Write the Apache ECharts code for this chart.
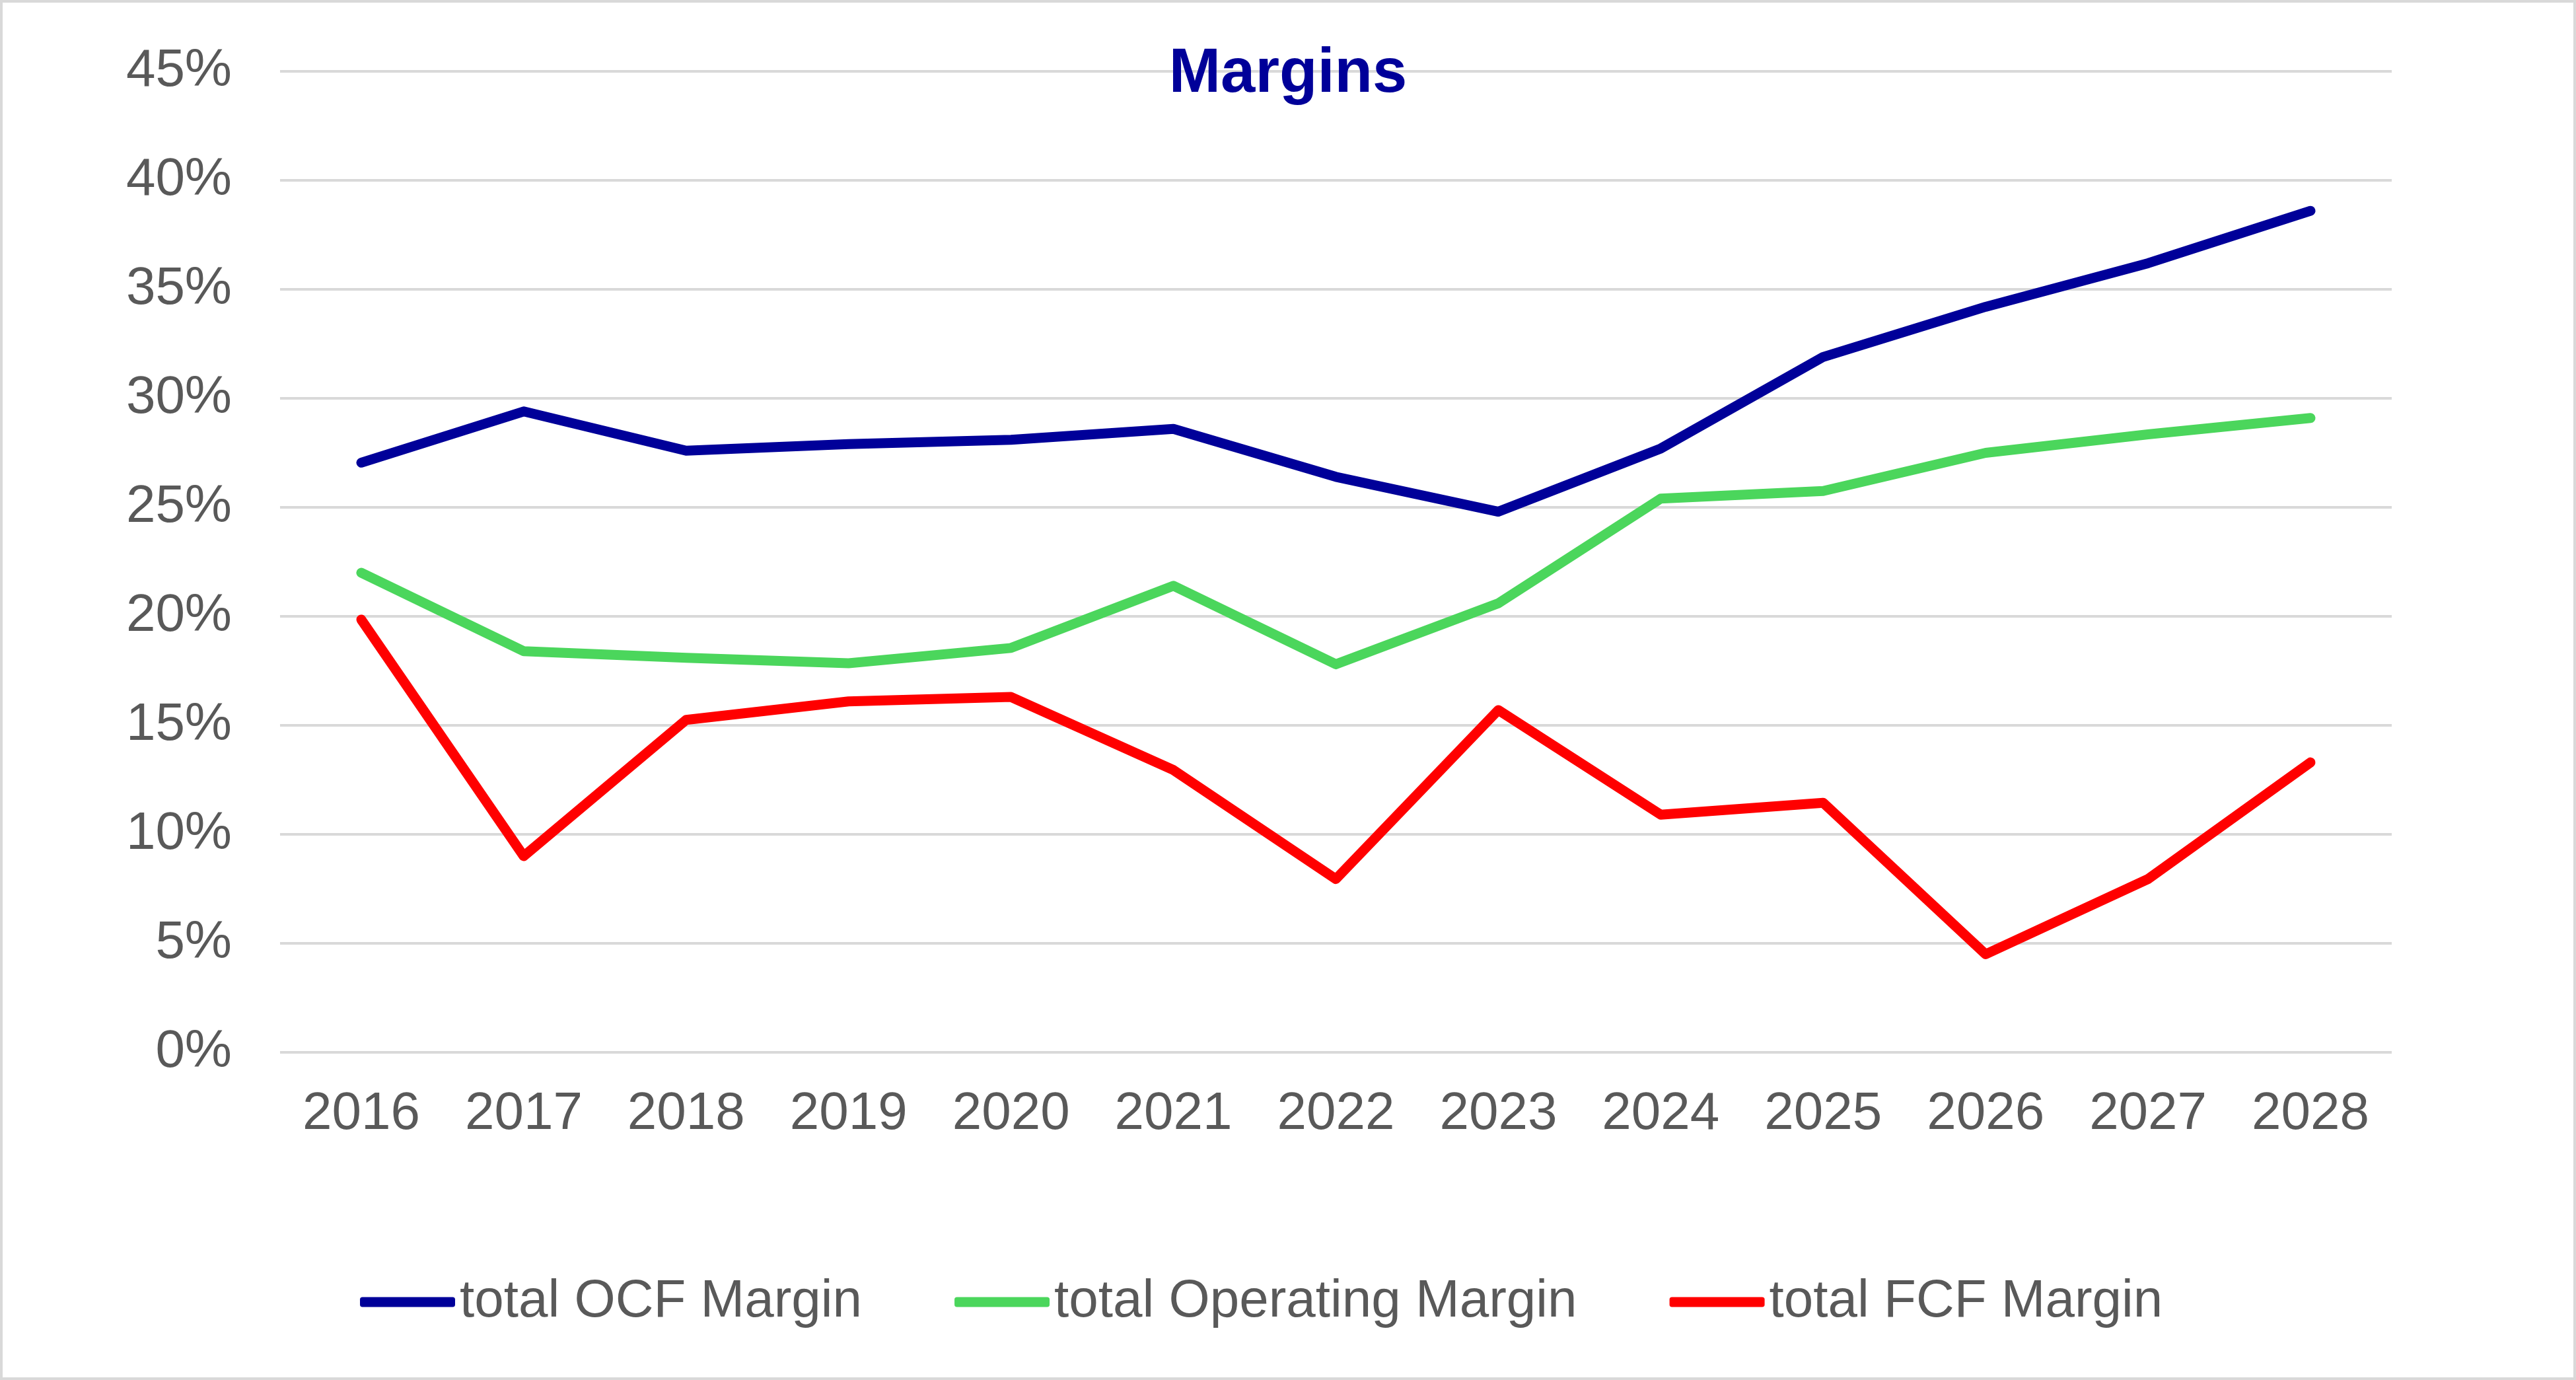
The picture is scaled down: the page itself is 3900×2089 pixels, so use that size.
<!DOCTYPE html>
<html>
<head>
<meta charset="utf-8">
<script src="https://cdn.jsdelivr.net/npm/echarts@6/dist/echarts.min.js"></script>
<style>
html,body{margin:0;padding:0;background:#fff;}
#chart{width:3900px;height:2089px;}
</style>
</head>
<body>
<div id="chart"></div>
<script>
const categories = ['2016','2017','2018','2019','2020','2021','2022','2023','2024','2025','2026','2027','2028'];
const ocfMargin = [27.05, 29.4, 27.6, 27.9, 28.1, 28.6, 26.4, 24.8, 27.7, 31.9, 34.2, 36.2, 38.6];
const operatingMargin = [22.0, 18.4, 18.1, 17.85, 18.55, 21.4, 17.8, 20.6, 25.4, 25.75, 27.5, 28.35, 29.1];
const fcfMargin = [19.85, 9.0, 15.25, 16.1, 16.3, 12.95, 7.95, 15.7, 10.9, 11.45, 4.5, 7.95, 13.3];
const seriesNames = ['total OCF Margin', 'total Operating Margin', 'total FCF Margin'];
const seriesColors = ['#000099', '#4BD65C', '#FF0000'];

const FONT = '"Liberation Sans", Arial, sans-serif';
const chart = echarts.init(document.getElementById('chart'), null, {renderer: 'canvas'});

function lineSeries(name, data, color) {
  return {
    name: name,
    type: 'line',
    data: data,
    symbol: 'none',
    smooth: false,
    lineStyle: {width: 15, color: color, cap: 'round', join: 'round'},
    itemStyle: {color: color},
    emphasis: {disabled: true}
  };
}

chart.setOption({
  animation: false,
  backgroundColor: '#ffffff',
  title: {
    text: 'Margins',
    left: 'center',
    top: 66,
    padding: 0,
    textStyle: {fontFamily: FONT, fontSize: 94, fontWeight: 'bold', color: '#000099', lineHeight: 94}
  },
  graphic: [{
    type: 'rect',
    shape: {x: 2, y: 2, width: 3896, height: 2085},
    style: {fill: 'none', stroke: '#d9d9d9', lineWidth: 4},
    silent: true,
    z: 100
  }],
  legend: {
    data: seriesNames,
    left: 540,
    top: 1926,
    itemWidth: 144,
    itemHeight: 15,
    itemGap: 140,
    icon: 'roundRect',
    textStyle: {fontFamily: FONT, fontSize: 80, color: '#595959', padding: [0, 0, 0, 2]}
  },
  grid: {left: 424, right: 279, top: 108, bottom: 496, containLabel: false},
  xAxis: {
    type: 'category',
    data: categories,
    boundaryGap: true,
    axisLine: {show: false},
    axisTick: {show: false},
    axisLabel: {fontFamily: FONT, fontSize: 80, color: '#595959', margin: 54}
  },
  yAxis: {
    type: 'value',
    min: 0,
    max: 45,
    interval: 5,
    axisLine: {show: false},
    axisTick: {show: false},
    axisLabel: {fontFamily: FONT, fontSize: 80, color: '#595959', margin: 73, formatter: '{value}%'},
    splitLine: {show: true, lineStyle: {color: '#d9d9d9', width: 4}}
  },
  series: [
    lineSeries(seriesNames[0], ocfMargin, seriesColors[0]),
    lineSeries(seriesNames[1], operatingMargin, seriesColors[1]),
    lineSeries(seriesNames[2], fcfMargin, seriesColors[2])
  ]
});
</script>
</body>
</html>
